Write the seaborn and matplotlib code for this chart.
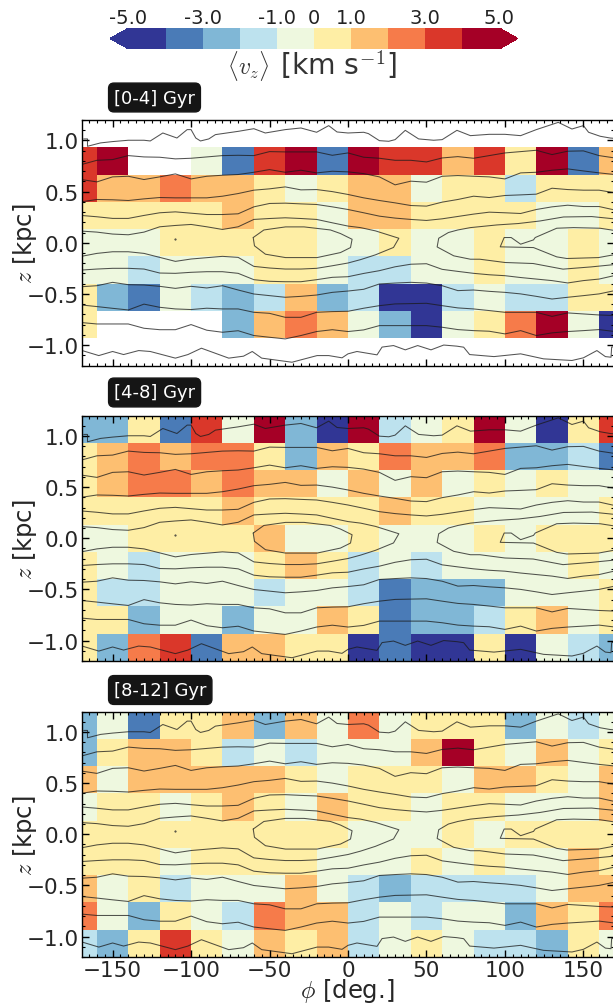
import numpy as np
import pandas as pd
import matplotlib
matplotlib.use('Agg')
import matplotlib.pyplot as plt
import matplotlib.ticker as mticker
import seaborn as sns

sns.set_style('white')
plt.rcParams['font.family'] = ['DejaVu Sans']
plt.rcParams['mathtext.fontset'] = 'cm'

n = np.nan

# mean v_z per bin: rows run from the top of the panel down, columns from phi=-180 to 180
vz_0_4 = [
    [n, n, n, n, n, n, n, n, n, n, n, n, n, n, n, n, n, n],
    [3.5, 4.5, n, n, -.5, -3.5, 3.5, 4.5, -3.5, 4.5, 3.5, 3.5, 1.5, 3.5, .5, 4.5, -3.5, 1.5],
    [3.5, 1.5, 1.5, 2.5, 1.5, 1.5, .5, -.5, .5, 1.5, 1.5, -.5, .5, .5, -1.5, .5, .5, .5],
    [.5, .5, .5, .5, .5, 1.5, .5, .5, -.5, 1.5, 1.5, .5, .5, .5, .5, -.5, -.5, .5],
    [-.5, -.5, -.5, .5, .5, .5, .5, .5, -.5, -.5, .5, -.5, -.5, .5, -.5, -.5, .5, -.5],
    [-.5, -.5, -1.5, -.5, -.5, -.5, .5, .5, -.5, -1.5, -1.5, -.5, -.5, .5, -.5, -.5, .5, -.5],
    [.5, -2.5, -3.5, -.5, -1.5, -2.5, -1.5, 1.5, -2.5, -1.5, -4.5, -4.5, -1.5, -.5, -1.5, -1.5, .5, .5],
    [.5, n, n, n, n, -2.5, 1.5, 2.5, 1.5, -.5, -2.5, -4.5, -.5, .5, 2.5, 4.5, -.5, -4.5],
    [n, n, n, n, n, n, n, n, n, n, n, n, n, n, n, n, n, n],
]
vz_4_8 = [
    [-2.5, -2.5, .5, -3.5, 3.5, -.5, 4.5, -2.5, -4.5, 4.5, -1.5, -.5, .5, 4.5, -.5, -4.5, .5, 3.5],
    [.5, 1.5, 2.5, 1.5, 2.5, 2.5, .5, -2.5, 1.5, .5, 2.5, 1.5, 1.5, 2.5, -2.5, -2.5, -1.5, -3.5],
    [.5, 1.5, 2.5, 2.5, 1.5, 2.5, 1.5, 1.5, -.5, 1.5, -.5, 1.5, -.5, .5, -.5, .5, -.5, -.5],
    [.5, .5, .5, .5, .5, 1.5, .5, .5, .5, .5, 1.5, .5, .5, -.5, -.5, -.5, -.5, .5],
    [-.5, -.5, .5, .5, .5, .5, 1.5, -.5, -.5, .5, -.5, -.5, -.5, .5, -.5, .5, .5, .5],
    [.5, -.5, -1.5, -.5, -.5, -.5, .5, 1.5, .5, -1.5, -.5, -1.5, -.5, -.5, -.5, -.5, .5, -.5],
    [.5, -1.5, -1.5, -.5, -.5, -.5, -1.5, -.5, -.5, -1.5, -3.5, -2.5, -2.5, -2.5, -.5, -.5, -.5, .5],
    [.5, .5, -2.5, -.5, -.5, -2.5, -.5, -.5, 1.5, .5, -3.5, -2.5, -2.5, -1.5, .5, 1.5, -.5, .5],
    [.5, -2.5, 2.5, 3.5, -3.5, 1.5, 1.5, .5, .5, -4.5, -3.5, -4.5, -4.5, .5, -4.5, -.5, -1.5, -2.5],
]
vz_8_12 = [
    [-2.5, -.5, -3.5, .5, .5, 1.5, -2.5, 1.5, -.5, 2.5, -.5, .5, .5, .5, -2.5, -.5, -1.5, -.5],
    [-2.5, .5, 1.5, 1.5, .5, -1.5, -.5, -1.5, -.5, -.5, -.5, 1.5, 4.5, .5, -.5, 1.5, -.5, .5],
    [1.5, -.5, 1.5, 1.5, 1.5, 1.5, 1.5, .5, -.5, .5, .5, .5, -.5, 1.5, 1.5, .5, -.5, 1.5],
    [-.5, .5, .5, -.5, .5, 1.5, .5, -.5, 1.5, .5, .5, -.5, .5, .5, -.5, -.5, -.5, 1.5],
    [.5, .5, .5, .5, .5, .5, .5, .5, .5, -.5, -.5, -.5, .5, -.5, .5, .5, .5, .5],
    [.5, .5, .5, -.5, .5, .5, .5, .5, -.5, -.5, -.5, .5, -.5, .5, -.5, -.5, 1.5, .5],
    [1.5, -.5, .5, -1.5, -.5, -.5, -.5, 1.5, -.5, -1.5, -2.5, -1.5, -1.5, -1.5, -1.5, -.5, 1.5, 1.5],
    [2.5, -.5, -2.5, .5, -.5, -1.5, 2.5, 1.5, 1.5, -1.5, -.5, -1.5, -.5, -.5, -2.5, 1.5, .5, 2.5],
    [-1.5, -2.5, .5, 3.5, .5, -.5, 1.5, .5, 1.5, -1.5, -.5, .5, -.5, -1.5, -1.5, -2.5, .5, -.5],
]
panel_names = ['[0-4] Gyr', '[4-8] Gyr', '[8-12] Gyr']

cbar_ticks = [-5, -3, -1, 0, 1, 3, 5]
cbar_labels = ['-5.0', '-3.0', '-1.0', '0', '1.0', '3.0', '5.0']

# density contours, shared by the three panels
phi_grid = [-170, -160, -150, -140, -130, -120, -110, -100, -90, -80, -70, -60, -50, -40, -30, -20, -10, 0,
            10, 20, 30, 40, 50, 60, 70, 80, 90, 100, 110, 120, 130, 140, 150, 160, 170]
z_b = [.764, .806, .813, .852, .839, .836, .820, .826, .839, .852, .855, .852, .891, .888, .888, .888, .855, .878,
       .836, .826, .806, .806, .79, .829, .842, .826, .852, .878, .891, .904, .862, .895, .898, .852, .829]
z_c = [.618, .595, .644, .650, .618, .644, .673, .624, .650, .660, .667, .689, .715, .689, .709, .683, .699, .693,
       .676, .644, .566, .602, .592, .650, .657, .650, .644, .624, .683, .689, .709, .722, .702, .683, .667]
z_d = [.40, .423, .42, .413, .429, .442, .439, .439, .439, .455, .481, .514, .527, .546, .517, .52, .50, .472,
       .439, .413, .39, .364, .358, .397, .423, .455, .442, .462, .468, .475, .533, .52, .514, .514, .488]
z_e = [.267, .254, .238, .238, .267, .293, .302, .289, .276, .276, .283, .351, .384, .387, .38, .374, .351, .325,
       .293, .26, .241, .228, .218, .234, .257, .28, .299, .293, .286, .325, .351, .367, .354, .354, .32]
z_e_low = [-.267, -.257, -.25, -.25, -.257, -.296, -.299, -.289, -.283, -.283, -.299, -.361, -.377, -.381, -.381, -.361, -.338, -.332,
           -.30, -.273, -.235, -.21, -.205, -.26, -.28, -.299, -.313, -.322, -.34, -.355, -.37, -.393, -.37, -.355, -.32]
z_h = [-.43, -.42, -.387, -.41, -.413, -.426, -.446, -.426, -.442, -.42, -.462, -.501, -.517, -.533, -.524, -.511, -.485, -.472,
       -.455, -.403, -.394, -.387, -.394, -.42, -.468, -.462, -.475, -.485, -.50, -.524, -.55, -.533, -.517, -.50, -.468]
z_i = [-.608, -.624, -.641, -.657, -.60, -.631, -.647, -.653, -.64, -.647, -.647, -.68, -.69, -.729, -.729, -.68, -.673, -.67,
       -.64, -.615, -.598, -.595, -.592, -.615, -.637, -.647, -.663, -.68, -.68, -.68, -.72, -.686, -.696, -.706, -.712]
z_j = [-.78, -.794, -.794, -.794, -.836, -.85, -.85, -.80, -.855, -.875, -.86, -.907, -.924, -.94, -.907, -.868, -.85, -.868,
       -.852, -.81, -.81, -.81, -.81, -.826, -.849, -.859, -.865, -.891, -.859, -.907, -.881, -.868, -.859, -.849, -.868]

top_phi = [-168.4, -166, -166, -157.7, -150, -140, -130, -126, -118, -109, -102.5, -100, -97, -94, -88.7, -84.5, -80, -70, -60,
           -52.7, -40, -30, -20, -12.3, -7, 0, 10, 13, 20, 26, 30, 36.5, 45, 54.6, 60, 69.4, 78, 90, 100, 110, 120, 134,
           142.7, 150, 153.3, 160.7, 167, 170]
top_z = [1.015, 1.015, .943, .976, .989, 1.002, 1.002, .995, 1.073, 1.024, 1.106, 1.106, 1.024, .995, 1.015, 1.057, 1.067, 1.089, 1.115,
         1.073, 1.106, 1.122, 1.080, 1.145, 1.083, 1.073, 1.080, 1.067, .998, .992, 1.008, 1.099, 1.015, 1.002, 1.008, 1.099, 1.047, 1.060, 1.060, 1.047, 1.106, 1.177,
         1.112, 1.145, 1.080, 1.041, 1.024, 1.02]
bottom_phi = [-169.4, -158.8, -150, -143, -133.4, -126, -110, -102, -93.4, -76, -66.6, -61, -55, -35.7, -19.7, -12.3, -3.8, 0,
              5.7, 18.5, 21.7, 29, 36.5, 44.4, 52.9, 61, 69.4, 73.7, 77.5, 93, 110, 124.6, 142.7, 150, 158.6, 164, 167.6, 168, 170]
bottom_z = [-1.054, -1.103, -1.063, -1.093, -1.054, -1.063, -1.128, -1.093, -1.031, -1.128, -1.109, -1.063, -1.128, -1.168, -1.103, -1.103, -1.125, -1.086,
            -1.063, -1.096, -1.02, -1.005, -1.047, -1.005, -1.047, -1.0, -1.011, -1.021, -1.093, -1.113, -1.086, -1.135, -1.151, -1.125, -1.054, -1.113, -1.119, -1.02, -1.015]

# left lobe: comes in from the left edge, turns at the tip near phi=32, goes back
lobe_l_phi = [-170, -160, -150, -140, -130, -120, -110, -100, -90, -80, -70, -60, -50, -40, -30, -20, -10, 0, 8, 17.5, 32.4,
              29, 17.5, 8, 0, -10, -20, -30, -40, -50, -60, -70, -80, -90, -100, -110, -120, -130, -140, -150, -160, -170]
lobe_l_z = [.114, .104, .085, .078, .104, .156, .169, .179, .156, .13, .156, .228, .237, .244, .237, .228, .195, .163, .148, .116, .044,
            -.046, -.118, -.165, -.198, -.225, -.25, -.257, -.257, -.247, -.231, -.143, -.133, -.146, -.159, -.182, -.143, -.104, -.088, -.088, -.104, -.133]
# right lobe: tip near phi=57, runs out through the right edge
lobe_r_phi = [172, 155.3, 137.3, 122.4, 108.6, 94.8, 78, 70, 64, 57.8, 56.8, 67.4, 78, 84, 100, 118, 137, 155, 172]
lobe_r_z = [.23, .256, .252, .213, .188, .174, .148, .125, .10, .044, -.041, -.128, -.161, -.161, -.193, -.203, -.258, -.236, -.21]

# closed inner contours
inner_l_phi = [-60.4, -53.6, -39.8, -28, -11.2, -4.8, 2.6, 1.6, -4.8, -19.7, -39.8, -52.6, -59.6, -60.4]
inner_l_z = [.051, .125, .155, .155, .125, .09, .034, -.047, -.096, -.145, -.145, -.112, -.03, .051]
inner_r_phi = [172, 160.6, 143.7, 133, 119.3, 118.2, 110, 104, 99.5, 97, 118.2, 133, 139.4, 159.6, 172]
inner_r_z = [.115, .142, .148, .142, .051, .028, -.014, .051, .051, -.04, -.047, -.138, -.154, -.145, -.11]

grid_lines = [z_b, z_c, z_d, z_e, z_e_low, z_h, z_i, z_j]
free_lines = [(top_phi, top_z), (bottom_phi, bottom_z), (lobe_l_phi, lobe_l_z), (lobe_r_phi, lobe_r_z),
              (inner_l_phi, inner_l_z), (inner_r_phi, inner_r_z)]

W, H = 613, 1004
fig = plt.figure(figsize=(W / 100, H / 100), dpi=100)
cmap = plt.get_cmap('RdYlBu_r', 10)

tops = [121, 416.5, 712.5]
label_y = [98.5, 393.5, 691]
phi_lim = 169.5
z_lim = 1.2
ax_h = 245.5


def draw_contour(ax, phi, z):
    sns.lineplot(x=phi, y=z, sort=False, estimator=None, color='#1a1a1a', lw=0.75, alpha=0.75, ax=ax)


for i, (vals, name) in enumerate(zip([vz_0_4, vz_4_8, vz_8_12], panel_names)):
    pos = [82 / W, 1 - (tops[i] + ax_h) / H, 532 / W, ax_h / H]
    ax = fig.add_axes(pos)
    mesh_df = pd.DataFrame(vals)
    sns.heatmap(mesh_df, cmap=cmap, vmin=-5, vmax=5, cbar=False, xticklabels=False, yticklabels=False, ax=ax)
    ax.set_xlim((180 - phi_lim) / 20, (180 + phi_lim) / 20)
    ax.set_ylim(9, 0)
    ax.tick_params(left=False, bottom=False)

    # second axes on top in real phi / z units, carries contours and ticks
    ov = fig.add_axes(pos, facecolor='none')
    for z_line in grid_lines:
        draw_contour(ov, phi_grid, z_line)
    for phi_line, z_line in free_lines:
        draw_contour(ov, phi_line, z_line)
    ov.plot([-110], [.035], marker='.', ms=1, color='#333333')

    ov.set_xlim(-phi_lim, phi_lim)
    ov.set_ylim(-z_lim, z_lim)
    ov.xaxis.set_major_locator(mticker.MultipleLocator(50))
    ov.xaxis.set_minor_locator(mticker.MultipleLocator(5))
    ov.yaxis.set_major_locator(mticker.MultipleLocator(0.5))
    ov.yaxis.set_minor_locator(mticker.MultipleLocator(0.1))
    ov.tick_params(which='both', direction='in', top=True, right=True, bottom=True, left=True, color='black')
    ov.tick_params(which='major', length=5, width=1, labelsize=15.5, pad=2.5)
    ov.tick_params(which='minor', length=2.5, width=0.8)
    for sp in ov.spines.values():
        sp.set_visible(True)
        sp.set_color('black')
        sp.set_linewidth(1)
    ov.set_ylabel(r'$z$ [kpc]', fontsize=17.5, va='center')
    ov.yaxis.set_label_coords(-(82 - 25) / 532, 0.5)
    if i < 2:
        ov.set_xticklabels([])
    else:
        ov.set_xlabel(r'$\phi$ [deg.]', fontsize=17.5, va='center')
        ov.xaxis.set_label_coords((347.5 - 82) / 532, -(991 - 958) / ax_h)

    fig.text(114 / W, 1 - label_y[i] / H, name, color='white', fontsize=13, va='center', ha='left',
             bbox=dict(boxstyle='round,pad=0.3', fc='#151515', ec='#151515'))

cax = fig.add_axes([110 / W, 1 - 50 / H, 408 / W, 21 / H])
cb = fig.colorbar(ax.collections[0], cax=cax, orientation='horizontal', extend='both', extendfrac=0.05)
cb.set_ticks(cbar_ticks)
cb.set_ticklabels(cbar_labels)
cb.outline.set_visible(False)
cb.minorticks_off()
cax.xaxis.set_ticks_position('top')
cax.tick_params(length=0, labelsize=14, pad=1, labelcolor='#222222')
fig.text(270 / W, 1 - 66 / H, r'$\langle v_z \rangle$', fontsize=17, color='#333333', ha='right', va='center')
fig.text(280 / W, 1 - 65 / H, r'[km s$^{-1}$]', fontsize=20.3, color='#333333', ha='left', va='center')

fig.savefig('out.png', dpi=100)
